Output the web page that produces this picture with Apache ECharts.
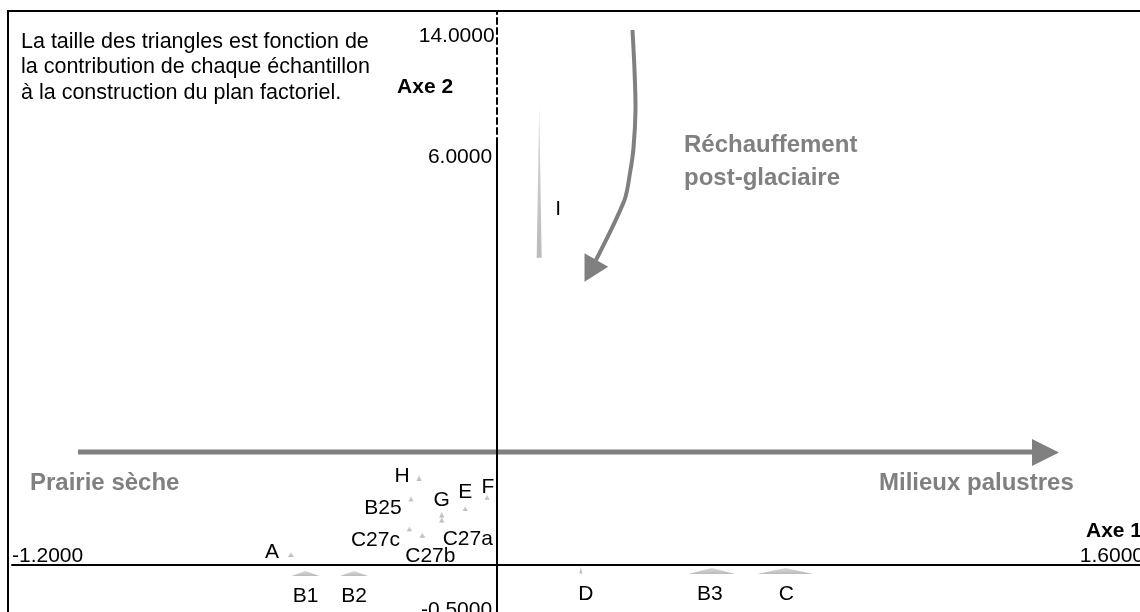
<!DOCTYPE html>
<html><head><meta charset="utf-8">
<script src="https://cdn.jsdelivr.net/npm/echarts@6/dist/echarts.min.js"></script>
<style>html,body{margin:0;padding:0;background:#fff}#c{width:1140px;height:612px}</style>
</head><body><div id="c"></div>
<script>
// ---- data ----
const names   = ['A','B1','B2','B25','C27c','C27b','C27a','G','H','E','F','D','B3','C','I'];
const axe1    = [-0.510,-0.474,-0.354,-0.213,-0.217,-0.185,-0.137,-0.137,-0.193,-0.079,-0.025,0.207,0.531,0.713,0.104];
const axe2    = [0.147,-0.133,-0.133,0.968,0.526,0.432,0.663,0.736,1.277,0.825,0.991,-0.081,-0.096,-0.096,5.636];
const ctrAxe1 = [3,14,14,2.5,2.5,3,2.5,2.5,2.5,2.5,2.5,1.5,23.5,28,2.5];
const ctrAxe2 = [2.5,2.5,2.5,2.5,2.5,2.5,3,3,3,2.5,2.5,3.5,3,3,75.5];
const axe1Ticks     = [-1.2, 1.6];
const axe2LowTicks  = [-0.5, 6.0];
const axe2HighTicks = [14.0];
const axe2LowRange  = [-0.7, 6.2];
const axe2HighRange = [6.2, 15.8];

// ---- styling / layout ----
const FONT = '"Liberation Sans", Arial, Helvetica, sans-serif';
const GRAY = '#808080';
const SIZE_K = 2;
const labelOffset = {A:[-19,-2],B1:[0,23],B2:[0,23],B25:[-28,9],C27c:[-34,11],C27b:[8,21],C27a:[26,20],
  G:[0,-14],H:[-17,-2],E:[0,-16],F:[1,-10],D:[5,24],B3:[-2,23.5],C:[1,23.5],I:[19,27]};
const near = (v, arr) => arr.some(t => Math.abs(t - v) < 1e-6);
const fmt4 = v => v.toFixed(4);

const chart = echarts.init(document.getElementById('c'));
const triColor = new echarts.graphic.LinearGradient(0,0,0,1,[{offset:0,color:'#dadada'},{offset:1,color:'#bababa'}]);

const data = names.map((n,i) => ({
  name: n,
  value: [axe1[i], axe2[i]],
  symbolSize: [ctrAxe1[i]*SIZE_K, ctrAxe2[i]*SIZE_K],
  label: {offset: labelOffset[n]}
}));

// axis crossing positions (pixels from grid edges) -> offsets
const GRID_L = 12, GRID_R = -4, LOW_TOP = 144, LOW_BOTTOM = 0;
const plotW = 1140 - GRID_L - GRID_R;
const plotHLow = 612 - LOW_TOP - LOW_BOTTOM;
const yAxisOffset = -(0 - axe1Ticks[0]) / (axe1Ticks[1] - axe1Ticks[0]) * plotW;
const xAxisOffset = -(0 - axe2LowRange[0]) / (axe2LowRange[1] - axe2LowRange[0]) * plotHLow;

const option = {
  animation: false,
  backgroundColor: '#fff',
  textStyle: {fontFamily: FONT},
  grid: [
    {left: GRID_L, right: GRID_R, top: LOW_TOP, bottom: LOW_BOTTOM, containLabel: false, outerBoundsMode: 'none'},
    {left: GRID_L, right: GRID_R, top: 11, height: LOW_TOP - 11, containLabel: false, outerBoundsMode: 'none'}
  ],
  xAxis: [
    {gridIndex: 0, type: 'value', min: axe1Ticks[0], max: axe1Ticks[1], interval: axe1Ticks[1]-axe1Ticks[0],
     position: 'bottom', offset: xAxisOffset,
     axisLine: {onZero: false, lineStyle: {color: '#000', width: 2}},
     axisTick: {show: false}, splitLine: {show: false},
     axisLabel: {inside: true, margin: 8, verticalAlign: 'middle', color: '#000', fontSize: 21, fontFamily: FONT,
       alignMinLabel: 'left', alignMaxLabel: 'right',
       formatter: v => near(v, axe1Ticks) ? fmt4(v) : ''},
     name: 'Axe 1\n\u00a0', nameLocation: 'end', nameGap: -2, nameMoveOverlap: false,
     nameTextStyle: {fontWeight: 'bold', fontSize: 21, color: '#000', fontFamily: FONT,
       align: 'right', verticalAlign: 'bottom', lineHeight: 22}},
    {gridIndex: 1, type: 'value', min: axe1Ticks[0], max: axe1Ticks[1], show: false}
  ],
  yAxis: [
    {gridIndex: 0, type: 'value', min: axe2LowRange[0], max: axe2LowRange[1], interval: 0.1,
     position: 'left', offset: yAxisOffset,
     axisLine: {onZero: false, lineStyle: {color: '#000', width: 2}},
     axisTick: {show: false}, splitLine: {show: false},
     axisLabel: {margin: 5, color: '#000', fontSize: 21, fontFamily: FONT,
       formatter: v => {
         if (!near(v, axe2LowTicks)) return '';
         if (Math.abs(v - axe2LowTicks[0]) < 1e-6) return '{lo|' + fmt4(v) + '}';
         return fmt4(v);
       },
       rich: {lo: {padding: [24,0,0,0], fontSize: 21, color: '#000', fontFamily: FONT}}}},
    {gridIndex: 1, type: 'value', min: axe2HighRange[0], max: axe2HighRange[1], interval: axe2HighTicks[0]-axe2HighRange[0],
     position: 'left', offset: yAxisOffset,
     axisLine: {onZero: false, lineStyle: {color: '#000', width: 2, type: [6,4]}},
     axisTick: {show: false}, splitLine: {show: false},
     axisLabel: {margin: 2.5, color: '#000', fontSize: 21, fontFamily: FONT,
       formatter: v => near(v, axe2HighTicks) ? fmt4(v) : ''},
     name: '\u00a0\nAxe 2', nameLocation: 'middle', nameRotate: 0, nameGap: 44, nameMoveOverlap: false,
     nameTextStyle: {fontWeight: 'bold', fontSize: 21, color: '#000', fontFamily: FONT,
       align: 'right', verticalAlign: 'middle', lineHeight: 20}}
  ],
  series: [{
    type: 'scatter', xAxisIndex: 0, yAxisIndex: 0, symbol: 'triangle', clip: false,
    itemStyle: {color: triColor, opacity: 1},
    label: {show: true, position: 'inside', formatter: '{b}', color: '#000', fontSize: 21, fontFamily: FONT,
      textBorderWidth: 0, align: 'center', verticalAlign: 'middle'},
    emphasis: {disabled: true},
    data: data
  }],
  graphic: [
    {type: 'rect', z: 100, silent: true, shape: {x: 8, y: 11, width: 1200, height: 700},
     style: {fill: null, stroke: '#000', lineWidth: 2}},
    {type: 'text', x: 21, y: 29, style: {text: 'La taille des triangles est fonction de\nla contribution de chaque échantillon\nà la construction du plan factoriel.',
      fontSize: 21.5, fontFamily: FONT, fill: '#000', lineHeight: 25.5, verticalAlign: 'top'}},
    {type: 'text', x: 30, y: 483, style: {text: 'Prairie sèche', fontSize: 24, fontWeight: 'bold', fontFamily: FONT, fill: GRAY, verticalAlign: 'middle'}},
    {type: 'text', x: 879, y: 483, style: {text: 'Milieux palustres', fontSize: 24, fontWeight: 'bold', fontFamily: FONT, fill: GRAY, verticalAlign: 'middle'}},
    {type: 'text', x: 684, y: 128.5, style: {text: 'Réchauffement\npost-glaciaire', fontSize: 24, fontWeight: 'bold', fontFamily: FONT, fill: GRAY, lineHeight: 33, verticalAlign: 'top'}},
    {type: 'line', shape: {x1: 78, y1: 452, x2: 1036, y2: 452}, style: {stroke: GRAY, lineWidth: 5}},
    {type: 'polygon', shape: {points: [[1032,439],[1059,452.5],[1032,466]]}, style: {fill: GRAY}},
    {type: 'polyline', shape: {points: [[632.5,30],[634.5,70],[635.5,110],[633.5,148],[630,173],[624.5,200],[596,260]], smooth: 0.3},
     style: {stroke: GRAY, lineWidth: 4, fill: null}},
    {type: 'polygon', shape: {points: [[584.5,253.3],[608.2,266.7],[584.5,281.7]]}, style: {fill: GRAY}}
  ]
};
chart.setOption(option);
</script></body></html>
